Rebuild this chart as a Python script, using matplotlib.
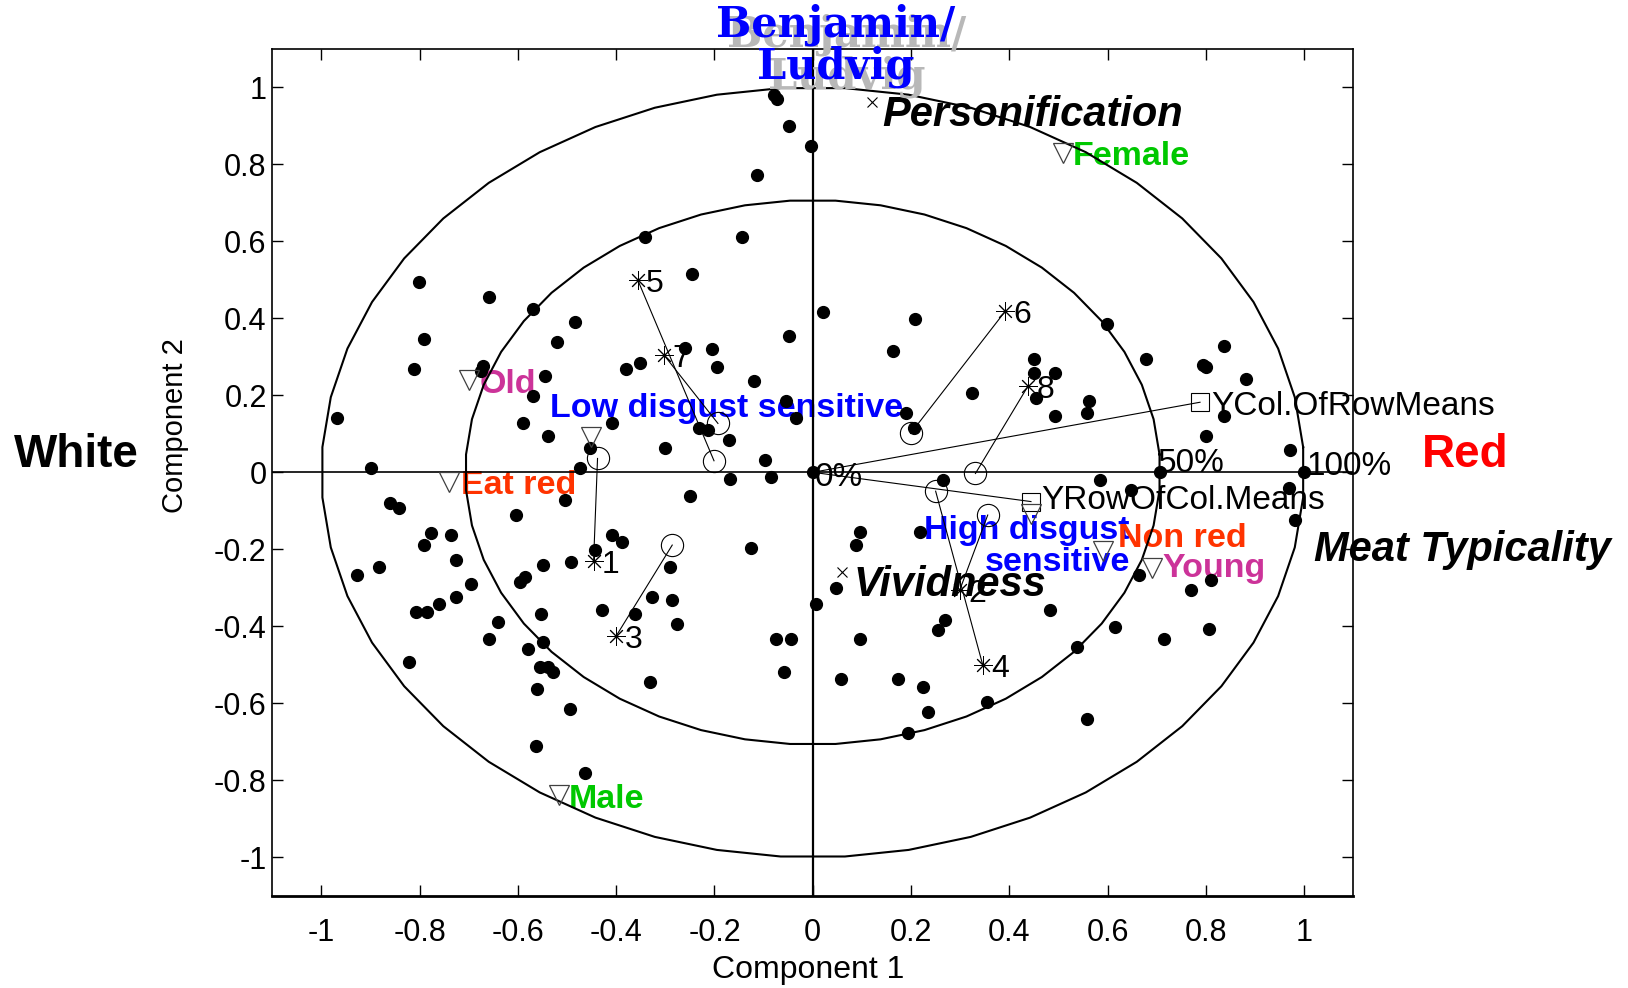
import numpy as np
import matplotlib
matplotlib.use("Agg")
import matplotlib.pyplot as plt
import matplotlib.transforms as mtransforms
from matplotlib import font_manager

# observation scores (black dots)
dot_x = [-0.802, -0.659, -0.569, -0.483, -0.520, -0.792, -0.811, -0.671, -0.676, -0.544,
         -0.569, -0.381, -0.968, -0.590, -0.539, -0.408, -0.453, -0.898, -0.473,
         -0.078, -0.073, -0.049, -0.003, -0.114, -0.342, -0.145, -0.245, 0.021, 0.209,
         -0.049, 0.164, -0.261, -0.205, -0.195, -0.352, -0.119, 0.325, -0.054, -0.034,
         0.189, 0.205, -0.232, -0.213, -0.170, -0.301, -0.098, 0.0,
         0.599, 0.836, 0.679, 0.451, 0.795, 0.801, 0.882, 0.451, 0.492, 0.455, 0.562,
         0.558, 0.492, 0.836, 0.801, 0.972, 0.706, 1.0,
         -0.860, -0.843, -0.776, -0.792, -0.737, -0.727, -0.883, -0.927, -0.696, -0.808,
         -0.786, -0.761, -0.727, -0.822, -0.640, -0.659, -0.604, -0.504, -0.595, -0.585,
         -0.549, -0.493, -0.443, -0.408, -0.388, -0.428, -0.554, -0.549, -0.579, -0.556,
         -0.539, -0.529, -0.561, -0.495, -0.564, -0.463,
         -0.169, -0.084, -0.250, -0.125, -0.291, -0.327, -0.286, -0.276, -0.362, -0.332,
         -0.074, -0.044, -0.059, 0.006, 0.097, 0.087, 0.047, 0.219, 0.265, 0.097, 0.058,
         0.173, 0.224, 0.234, 0.194, 0.270, 0.255, 0.355,
         0.584, 0.648, 0.970, 0.982, 0.664, 0.770, 0.811, 0.483, 0.614, 0.715, 0.806,
         0.538, 0.558]
dot_y = [0.494, 0.456, 0.424, 0.391, 0.339, 0.345, 0.268, 0.276, 0.264, 0.250,
         0.198, 0.268, 0.140, 0.127, 0.094, 0.127, 0.062, 0.012, 0.012,
         0.980, 0.970, 0.900, 0.848, 0.771, 0.610, 0.610, 0.514, 0.416, 0.397,
         0.354, 0.314, 0.322, 0.320, 0.274, 0.283, 0.236, 0.205, 0.186, 0.140,
         0.155, 0.114, 0.114, 0.110, 0.084, 0.064, 0.032, 0.0,
         0.385, 0.328, 0.294, 0.294, 0.279, 0.273, 0.242, 0.257, 0.257, 0.192, 0.185,
         0.153, 0.146, 0.146, 0.094, 0.058, 0.0, 0.0,
         -0.079, -0.092, -0.157, -0.189, -0.163, -0.228, -0.247, -0.267, -0.291, -0.362,
         -0.362, -0.343, -0.324, -0.492, -0.388, -0.433, -0.111, -0.072, -0.286, -0.273,
         -0.241, -0.234, -0.202, -0.163, -0.182, -0.358, -0.369, -0.440, -0.459, -0.505,
         -0.505, -0.518, -0.563, -0.615, -0.711, -0.782,
         -0.017, -0.011, -0.061, -0.196, -0.247, -0.325, -0.332, -0.395, -0.369, -0.544,
         -0.434, -0.434, -0.518, -0.343, -0.156, -0.189, -0.300, -0.156, -0.020, -0.433, -0.537,
         -0.537, -0.557, -0.622, -0.678, -0.384, -0.410, -0.596,
         -0.020, -0.046, -0.040, -0.124, -0.267, -0.306, -0.280, -0.358, -0.403, -0.434, -0.408,
         -0.455, -0.641]

# products (stars) and their predicted positions (rings)
prod_labels = ["1", "2", "3", "4", "5", "6", "7", "8"]
prod_x = [-0.446, 0.299, -0.400, 0.346, -0.356, 0.392, -0.303, 0.438]
prod_y = [-0.230, -0.306, -0.425, -0.501, 0.499, 0.419, 0.305, 0.224]
ring_x = [-0.438, 0.356, -0.286, 0.250, -0.201, 0.199, -0.193, 0.331]
ring_y = [0.036, -0.111, -0.189, -0.049, 0.030, 0.101, 0.127, -0.003]

# mean vectors (squares)
mean_labels = ["YCol.OfRowMeans", "YRowOfCol.Means"]
mean_x = [0.788, 0.444]
mean_y = [0.182, -0.076]

# design variables (triangles)
design_labels = ["Old", "Low disgust sensitive", "Eat red", "Male", "Female",
                 "High disgust\nsensitive", "Non red", "Young"]
design_x = [-0.700, -0.451, -0.740, -0.517, 0.509, 0.445, 0.590, 0.691]
design_y = [0.240, 0.092, -0.024, -0.838, 0.829, -0.107, -0.204, -0.248]
design_colors = ["#CC3399", "#0000FF", "#FF3300", "#00C800", "#00C800",
                 "#0000FF", "#FF3300", "#CC3399"]
design_text_x = [-0.678, -0.534, -0.716, -0.496, 0.529, 0.645, 0.622, 0.712]
design_text_y = [0.229, 0.167, -0.033, -0.850, 0.819, -0.192, -0.171, -0.251]

# sensory attributes (x marks)
attr_x = [0.120, 0.060]
attr_y = [0.961, -0.258]

names = {f.name for f in font_manager.fontManager.ttflist}
narrow = "Liberation Sans Narrow" if "Liberation Sans Narrow" in names else None
plt.rcParams['font.family'] = ['Liberation Sans', 'DejaVu Sans']

fig = plt.figure(figsize=(16.28, 9.88), dpi=100)
ax = fig.add_axes([0.1672, 0.0933, 0.6641, 0.8573])
ax.set_xlim(-1.1, 1.1)
ax.set_ylim(-1.1, 1.1)

# explained variance circles (50% and 100%)
t = np.linspace(0, 2 * np.pi, 49) + np.pi / 48
for r in [1.0, np.sqrt(0.5)]:
    ax.plot(r * np.cos(t), r * np.sin(t), color='k', lw=1.5, zorder=2)

ax.axhline(0, color='k', lw=1.2, zorder=2)
ax.axvline(0, color='k', lw=1.6, zorder=2)

for mx, my in zip(mean_x, mean_y):
    ax.plot([0, mx], [0, my], color='k', lw=0.8, zorder=2)
for px, py, rx, ry in zip(prod_x, prod_y, ring_x, ring_y):
    ax.plot([px, rx], [py, ry], color='k', lw=0.8, zorder=2)

ax.plot(dot_x, dot_y, 'o', color='k', ms=8.5, ls='none', zorder=4)
ax.plot(prod_x, prod_y, ls='none', marker=(8, 2, 0), ms=13, mec='k', mew=0.7, zorder=4)
ax.plot(ring_x, ring_y, 'o', mfc='none', mec='k', ms=16, mew=0.8, ls='none', zorder=4)
ax.plot(mean_x, mean_y, 's', mfc='none', mec='k', ms=13, mew=0.8, ls='none', zorder=4)
ax.plot(design_x, design_y, 'v', mfc='none', mec='#404040', ms=15, mew=0.9, ls='none', zorder=4)
ax.plot(attr_x, attr_y, 'x', color='k', ms=7, mew=0.8, ls='none', zorder=4)

for lab, px, py in zip(prod_labels, prod_x, prod_y):
    ax.annotate(lab, (px, py), xytext=(6, -3), textcoords='offset points',
                fontsize=23, va='center', ha='left', zorder=1)

ax.text(0.81, 0.17, mean_labels[0], fontsize=24, va='center', ha='left', zorder=1)
ax.text(0.465, -0.073, mean_labels[1], fontsize=24, va='center', ha='left', zorder=1)
ax.text(0.004, -0.014, "0%", fontsize=24, va='center', ha='left', zorder=1)
ax.text(0.702, 0.022, "50%", fontsize=24, va='center', ha='left', zorder=1)
ax.text(1.004, 0.016, "100%", fontsize=24, va='center', ha='left', zorder=1, clip_on=False)

for lab, tx, ty, c in zip(design_labels, design_text_x, design_text_y, design_colors):
    ha = 'right' if '\n' in lab else 'left'
    ax.text(tx, ty, lab, color=c, fontsize=24.5, fontweight='bold', va='center', ha=ha,
            multialignment='right', linespacing=1.05, zorder=1)

bi = dict(fontsize=30, fontweight='bold', fontstyle='italic', va='center', ha='left', zorder=1)
ax.text(0.142, 0.927, "Personification", **bi)
ax.text(0.083, -0.292, "Vividness", **bi)
ax.text(1.019, -0.203, "Meat Typicality", clip_on=False, **bi)

ax.text(1.327, 0.045, "Red", color='#FF0000', fontsize=33, fontweight='bold',
        ha='center', va='center', clip_on=False)
ax.text(-1.499, 0.045, "White", color='k', fontsize=33, fontweight='bold',
        ha='center', va='center', clip_on=False)

shadow = mtransforms.offset_copy(ax.transData, fig=fig, x=8, y=-7, units='points')
for tr, col in [(shadow, '#B8B8B8'), (ax.transData, '#0000FF')]:
    ax.text(0.047, 1.108, "Benjamin/\nLudvig", transform=tr, color=col, fontsize=30,
            fontweight='bold', family='DejaVu Serif', ha='center', va='center',
            linespacing=0.98, clip_on=False)

ticks = [-1, -0.8, -0.6, -0.4, -0.2, 0, 0.2, 0.4, 0.6, 0.8, 1]
tick_labels = ["-1", "-0.8", "-0.6", "-0.4", "-0.2", "0", "0.2", "0.4", "0.6", "0.8", "1"]
ax.set_xticks(ticks)
ax.set_yticks(ticks)
ax.set_xticklabels(tick_labels)
ax.set_yticklabels(tick_labels)
ax.tick_params(direction='in', length=8, width=1, top=True, right=True)
ax.tick_params(axis='y', labelsize=22, pad=4)
ax.tick_params(axis='x', labelsize=24 if narrow else 22, pad=16)
if narrow:
    for lbl in ax.get_xticklabels():
        lbl.set_family(narrow)
for s in ax.spines.values():
    s.set_linewidth(1.2)
ax.spines['bottom'].set_linewidth(2)

ax.set_xlabel("Component 1", fontsize=27 if narrow else 23, family=narrow or 'Liberation Sans')
ax.xaxis.set_label_coords(0.4956, -0.070)
ax.set_ylabel("Component 2", fontsize=21)
ax.yaxis.set_label_coords(-0.077, 0.555)

fig.savefig("out.png", dpi=100)
